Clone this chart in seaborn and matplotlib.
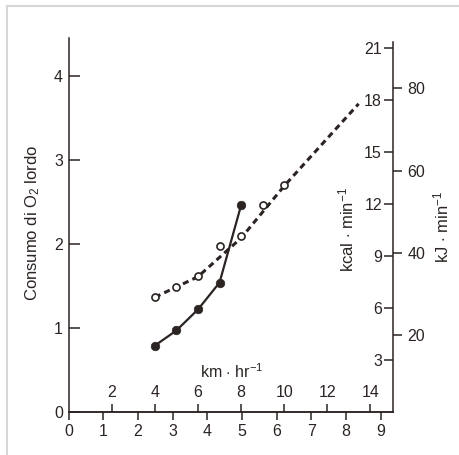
import numpy as np
import pandas as pd
import seaborn as sns
import matplotlib.pyplot as plt
from matplotlib.lines import Line2D

# values: speed in km/h, gross O2 uptake in L/min
walk_kmh = [4, 5, 6, 7, 8]
walk_o2 = [0.79, 0.97, 1.22, 1.54, 2.46]
run_kmh = [4, 5, 6, 7, 8, 9, 10]
run_o2 = [1.365, 1.49, 1.615, 1.97, 2.09, 2.46, 2.70]
# dashed fitted line for running (extrapolated)
run_fit_kmh = [4, 6, 8, 10, 13.45]
run_fit_o2 = [1.365, 1.61, 2.07, 2.69, 3.667]

mph_ticks = list(range(10))
kmh_ticks = [2, 4, 6, 8, 10, 12, 14]
o2_ticks = [0, 1, 2, 3, 4]
kcal_ticks = [3, 6, 9, 12, 15, 18, 21]
kj_ticks = [20, 40, 60, 80]

KM_PER_MILE = 1.609
KCAL_PER_L = 4.855          # kcal scale as printed on the right axis
KJ_SLOPE, KJ_OFF = 20.44, 1.27  # kJ scale as printed (slightly offset in the original)

ink = '#2b2422'

sns.set_theme(style='white')
plt.rcParams.update({
    'font.family': ['Liberation Sans', 'DejaVu Sans'],
    'mathtext.fontset': 'custom',
    'mathtext.rm': 'Liberation Sans',
    'mathtext.it': 'Liberation Sans:italic',
    'mathtext.bf': 'Liberation Sans:bold',
    'axes.edgecolor': ink,
    'axes.linewidth': 1.1,
    'text.color': ink,
    'xtick.color': ink,
    'ytick.color': ink,
})

walk = pd.DataFrame({'mph': np.array(walk_kmh) / KM_PER_MILE, 'o2': walk_o2})
run = pd.DataFrame({'mph': np.array(run_kmh) / KM_PER_MILE, 'o2': run_o2})
run_fit = pd.DataFrame({'mph': np.array(run_fit_kmh) / KM_PER_MILE, 'o2': run_fit_o2})

fig = plt.figure(figsize=(4.59, 4.55), dpi=100)
ax = fig.add_axes([68.6 / 459, 43 / 455, 324.4 / 459, 374 / 455])

sns.lineplot(data=run_fit, x='mph', y='o2', color=ink, lw=2.2,
             linestyle=(0, (2.0, 1.4)), ax=ax)
sns.lineplot(data=walk, x='mph', y='o2', color=ink, lw=1.6, ax=ax)
sns.scatterplot(data=walk, x='mph', y='o2', color=ink, edgecolor=ink,
                s=38, zorder=4, ax=ax)
sns.scatterplot(data=run, x='mph', y='o2', color='white', edgecolor=ink,
                s=26, linewidth=1.2, zorder=4, ax=ax)

ax.set_xlim(0, 9.35)
ax.set_ylim(0, 4.45)
ax.set_xticks(mph_ticks)
ax.set_yticks(o2_ticks)
ax.set_xlabel('')
ax.set_ylabel('')
ax.tick_params(axis='y', direction='in', length=8, width=1.1, pad=4,
               labelsize=11.5, left=True)
ax.tick_params(axis='x', direction='out', length=6, width=1.1, pad=3,
               labelsize=11.5, bottom=True)
sns.despine(ax=ax, top=True, right=True)

# kcal scale: ticks and labels on the inner side of the right spine
sec_kcal = ax.secondary_yaxis('right', functions=(lambda o: o * KCAL_PER_L,
                                                   lambda k: k / KCAL_PER_L))
sec_kcal.set_alignment('left')
sec_kcal.set_yticks(kcal_ticks)
sec_kcal.tick_params(direction='out', length=6.5, width=1.1, pad=1.5,
                     labelsize=11.5, left=True)
sec_kcal.spines['left'].set_bounds(0, 21.4)

# kJ scale on the outer side
sec_kj = ax.secondary_yaxis('right', functions=(lambda o: KJ_SLOPE * o + KJ_OFF,
                                                 lambda j: (j - KJ_OFF) / KJ_SLOPE))
sec_kj.set_yticks(kj_ticks)
sec_kj.tick_params(direction='out', length=6.5, width=1.1, pad=4,
                   labelsize=11.5, right=True)
sec_kj.spines['right'].set_visible(False)

# km/h scale drawn above the bottom axis
sec_km = ax.secondary_xaxis('bottom', functions=(lambda m: m * KM_PER_MILE,
                                                  lambda k: k / KM_PER_MILE))
sec_km.set_alignment('top')
sec_km.set_xticks(kmh_ticks)
sec_km.tick_params(direction='out', length=6, width=1.1, pad=2.5,
                   labelsize=11.5, top=True)

ax.text(-0.11, 0.505, 'Consumo di O$_2$ lordo', rotation=90, ha='center',
        va='center', transform=ax.transAxes, fontsize=12)
ax.text(0.857, 0.489, r'kcal $\cdot$ min$^{-1}$', rotation=90, ha='center',
        va='center', transform=ax.transAxes, fontsize=12)
ax.text(1.150, 0.495, r'kJ $\cdot$ min$^{-1}$', rotation=90, ha='center',
        va='center', transform=ax.transAxes, fontsize=12, clip_on=False)
ax.text(4.71, 0.48, r'km $\cdot$ hr$^{-1}$', ha='center', va='center',
        fontsize=11.5)

# light frame of the scanned page
fig.add_artist(Line2D([7 / 459, 7 / 459], [0, 1 - 6 / 455],
                      transform=fig.transFigure, color='#d6d6d6', lw=1.5))
fig.add_artist(Line2D([7 / 459, 1], [1 - 6 / 455, 1 - 6 / 455],
                      transform=fig.transFigure, color='#d6d6d6', lw=1.5))

fig.savefig('out.png', dpi=100)
